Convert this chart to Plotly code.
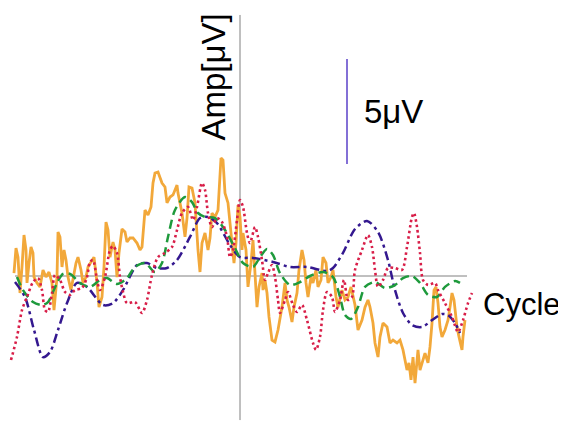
import plotly.graph_objects as go

# ---- data (x: cycle phase, arbitrary units, 0 at the vertical axis; y: amplitude in µV) ----
orange_x = [-226, -224, -222, -220, -218, -216, -214, -213, -211, -209, -207, -206, -203, -200, -197, -194, -191, -188, -186, -183,
            -182, -180, -178, -176, -174, -172, -169, -167, -164, -162, -159, -157, -154, -152, -148, -146, -143, -141, -138, -136,
            -134, -132, -130, -127, -125, -123, -121, -118, -115, -113, -110, -107, -103, -100, -98, -95, -92, -89, -87, -85,
            -82, -78, -75, -73, -70, -67, -63, -62, -58, -55, -53, -51, -48, -45, -42, -40, -38, -35, -32, -30,
            -28, -25, -22, -19, -17, -15, -12, -10, -8, -6, -4, -2, 0, 2, 3, 6, 8, 11, 13, 15,
            17, 19, 22, 23, 25, 27, 29, 32, 35, 38, 42, 45, 47, 49, 52, 54, 57, 59, 62, 64,
            66, 68, 71, 73, 76, 78, 81, 83, 86, 88, 91, 93, 96, 98, 102, 105, 108, 111, 115, 118,
            122, 125, 128, 130, 133, 135, 138, 140, 143, 147, 150, 153, 157, 160, 163, 167, 169, 171, 173, 175,
            178, 180, 182, 185, 188, 190, 192, 194, 196, 198, 200, 202, 205, 208, 210, 212, 214, 217, 219, 222,
            223, 225]
orange_y = [0.14, 1.33, 0.90, -0.81, 0.43, 1.95, 1.24, -0.33, 0.62, 1.38, 1.10, -0.05, -0.33, -0.52, 0.29, -0.05, 0.19, -0.33, -1.62, -0.05,
            2.10, 1.86, 0.43, 1.24, 0.76, -0.05, -0.67, -0.19, 0.62, 0.90, 0.29, -0.33, -0.05, 0.43, 0.76, 0.90, -0.33, -1.48, -1.00, 0.43,
            2.57, 2.19, 0.90, 1.62, 1.24, -0.05, 1.10, 2.24, 2.10, 1.62, 1.81, 1.81, 1.57, 1.24, 1.38, 3.14, 2.90, 3.29, 4.43, 4.90,
            4.95, 4.43, 4.24, 3.48, 3.76, 3.86, 4.33, 3.95, 3.00, 1.86, 2.76, 4.24, 4.19, 3.48, 1.24, 0.19, 1.57, 2.05, 1.24, 1.81,
            3.00, 2.81, 3.14, 5.62, 5.52, 3.95, 3.48, 2.57, 1.86, 0.62, 1.57, 3.38, 2.81, 1.24, 2.05, 1.24, -0.52, 0.62, 1.71, 0.14,
            -1.48, -0.52, 0.14, -0.67, -0.19, -0.81, -1.95, -3.05, -3.14, -2.57, -1.48, -0.33, -1.14, -1.48, -2.19, -1.48, -0.81, 0.29, 1.24, 0.76,
            -0.33, -1.00, -0.05, -0.33, 0.29, -0.52, -0.19, 0.90, 0.62, -0.33, -0.05, 0.29, -1.00, -1.48, -0.67, -1.14, -1.00, -0.52, -1.38, -2.57,
            -2.10, -1.48, -1.14, -1.48, -2.24, -3.19, -3.86, -2.90, -2.24, -2.43, -3.19, -3.05, -3.19, -3.05, -3.52, -4.48, -4.14, -4.95, -3.86, -5.10,
            -3.52, -4.48, -4.14, -3.67, -4.14, -3.38, -2.24, -0.67, -0.52, -1.29, -2.43, -2.90, -2.57, -2.10, -1.48, -0.81, -1.14, -2.43, -2.90, -3.52,
            -2.90, -2.10]

navy_x = [-225, -215, -206, -197, -190, -182, -173, -163, -153, -137, -127, -117, -103, -93, -83, -73, -63, -50, -40, -32,
          -23, -10, 0, 13, 33, 50, 67, 87, 93, 103, 115, 127, 138, 148, 155, 163, 172, 182, 192, 202,
          208, 215, 220]
navy_y = [-0.29, -1.00, -2.57, -3.86, -3.62, -2.57, -1.29, -0.33, -0.52, -1.38, -1.29, -0.67, 0.52, 0.62, 0.38, 0.38, 0.76, 1.86, 2.76, 2.81,
          2.52, 1.48, 0.90, 0.86, 0.67, 0.43, 0.43, 0.24, 0.38, 1.10, 2.24, 2.62, 2.10, 0.76, -0.67, -1.76, -2.33, -2.43, -2.10, -1.81,
          -1.86, -2.24, -2.71]

green_x = [-223, -217, -207, -198, -192, -183, -177, -170, -160, -150, -140, -133, -123, -113, -105, -95, -85, -78, -72, -65,
           -55, -48, -42, -35, -25, -15, -5, 3, 13, 20, 27, 33, 40, 50, 60, 70, 83, 93, 100, 105,
           111, 118, 125, 135, 145, 155, 163, 172, 180, 188, 197, 205, 215, 220]
green_y = [-0.05, -0.67, -1.24, -1.38, -1.24, -0.33, 0.10, 0.10, -0.33, -0.52, -0.19, -0.10, -0.38, -0.10, 0.43, 0.62, 0.19, 0.62, 1.86, 3.14,
           3.76, 3.52, 3.00, 2.81, 2.76, 2.19, 1.33, 0.62, 0.43, 0.90, 1.29, 1.00, 0.14, -0.43, -0.29, 0.00, 0.19, -0.05, -1.00, -1.86,
           -2.05, -1.48, -0.52, -0.29, -0.57, -0.43, -0.10, 0.00, -0.33, -0.90, -1.00, -0.52, -0.24, -0.33]

red_x = [-229, -223, -218, -213, -207, -202, -198, -195, -192, -188, -185, -180, -175, -170, -165, -158, -153, -150, -147, -143,
         -140, -135, -130, -127, -123, -120, -117, -113, -105, -98, -93, -88, -82, -75, -68, -63, -58, -52, -47, -43,
         -38, -35, -32, -28, -23, -18, -13, -10, -7, -3, 0, 3, 7, 10, 15, 18, 22, 25, 28, 32,
         35, 38, 40, 45, 48, 53, 57, 62, 67, 73, 76, 80, 83, 87, 92, 95, 100, 104, 108, 112,
         115, 122, 128, 132, 135, 138, 143, 148, 155, 162, 167, 172, 174, 177, 180, 183, 188, 195, 198, 205,
         212, 218, 223, 228, 232]
red_y = [-4.00, -2.90, -1.62, -1.00, -0.29, -0.10, -0.67, -1.62, -1.71, -0.81, 0.05, -0.19, -0.76, -0.90, -0.67, -0.57, -0.05, 0.67, 0.76, -0.19,
         -0.67, -0.05, 1.24, 1.43, 1.10, -0.05, -0.76, -1.29, -1.24, -1.76, -1.14, 0.05, 0.90, 1.10, 1.38, 2.19, 3.00, 3.29, 2.67, 3.29,
         4.43, 4.10, 3.00, 2.33, 2.76, 2.57, 1.86, 0.90, 1.24, 2.67, 3.62, 3.29, 2.05, 1.57, 2.33, 1.86, 0.76, -0.19, 0.14, 0.52,
         -0.05, -1.14, -1.76, -1.14, -0.76, -1.38, -1.71, -1.38, -2.10, -3.19, -3.52, -2.90, -1.62, -0.76, -1.00, -1.71, -1.14, -0.19, -1.14, -1.00,
         0.29, 1.24, 1.95, 1.38, 0.29, -0.52, -0.19, 0.38, 0.38, 0.29, 1.38, 2.81, 3.00, 2.33, 1.10, -0.19, -0.43, -0.33, -0.67, -1.29,
         -1.95, -2.67, -2.10, -1.29, -0.81]

axis_x_extent = [-225, 227]
axis_y_extent = [-6.86, 12.43]
scale_bar_uv = 5
scale_bar_x = 107
scale_bar_top = 10.33

FONT = "Arial, Liberation Sans, sans-serif"

fig = go.Figure()
fig.add_trace(go.Scatter(x=orange_x, y=orange_y, mode="lines",
                         line=dict(color="#F2A83A", width=2.8)))
fig.add_trace(go.Scatter(x=navy_x, y=navy_y, mode="lines",
                         line=dict(color="#34188F", width=2.5, dash="9px,4px,3px,4px", shape="spline", smoothing=0.8)))
fig.add_trace(go.Scatter(x=green_x, y=green_y, mode="lines",
                         line=dict(color="#1E9A3C", width=2.5, dash="9px,5px", shape="spline", smoothing=0.8)))
fig.add_trace(go.Scatter(x=red_x, y=red_y, mode="lines",
                         line=dict(color="#D81E48", width=2.6, dash="2.5px,3px", shape="spline", smoothing=0.8)))

# axes lines
fig.add_shape(type="line", x0=axis_x_extent[0], x1=axis_x_extent[1], y0=0, y1=0,
              line=dict(color="#808080", width=1), layer="below")
fig.add_shape(type="line", x0=0, x1=0, y0=axis_y_extent[0], y1=axis_y_extent[1],
              line=dict(color="#808080", width=1), layer="below")
# scale bar
fig.add_shape(type="line", x0=scale_bar_x, x1=scale_bar_x, y0=scale_bar_top - scale_bar_uv, y1=scale_bar_top,
              line=dict(color="#5A40C8", width=1.5))

fig.add_annotation(x=scale_bar_x + 15, y=scale_bar_top - scale_bar_uv / 2, text="5μV", showarrow=False,
                   xanchor="left", yanchor="middle", font=dict(family=FONT, size=33, color="black"))
fig.add_annotation(x=-26, y=9.45, text="Amp[μV]", showarrow=False, textangle=-90,
                   xanchor="center", yanchor="middle", font=dict(family=FONT, size=33, color="black"))
fig.add_annotation(x=241, y=-1.38, text="Cycle", showarrow=False,
                   xanchor="left", yanchor="middle", font=dict(family=FONT, size=31, color="black"))

# page body has an 8px margin, so the axis ranges are offset to land where the reference draws
fig.update_layout(
    width=566, height=435,
    margin=dict(l=0, r=0, t=0, b=0),
    paper_bgcolor="white", plot_bgcolor="white",
    showlegend=False,
    xaxis=dict(range=[-232, 334], visible=False, fixedrange=True),
    yaxis=dict(range=[-7.952, 12.762], visible=False, fixedrange=True),
)

fig.write_html("out.html", config={"displayModeBar": False})
